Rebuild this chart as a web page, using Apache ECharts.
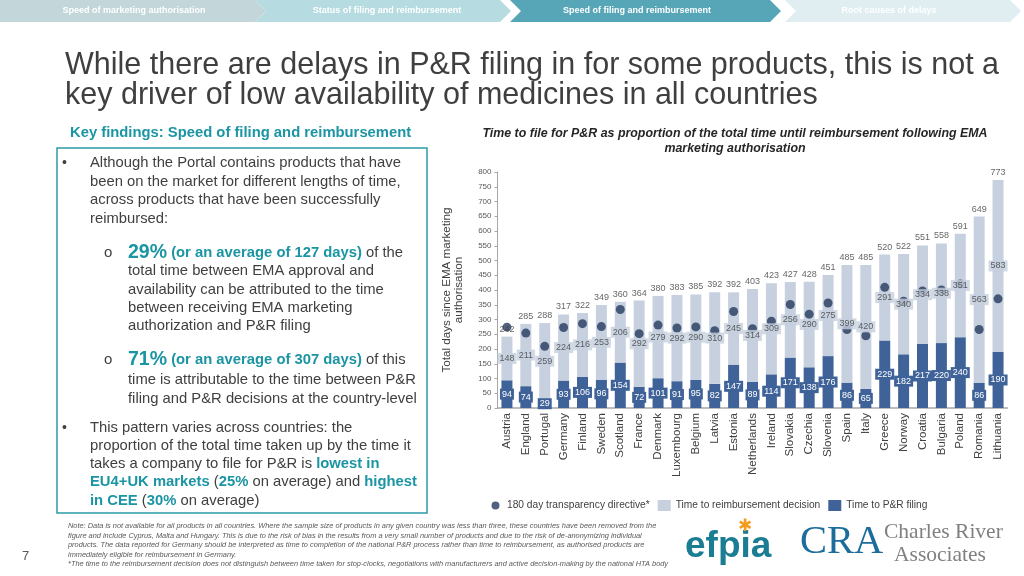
<!DOCTYPE html>
<html>
<head>
<meta charset="utf-8">
<script src="https://cdn.jsdelivr.net/npm/echarts@6/dist/echarts.min.js"></script>
<style>
html,body{margin:0;padding:0;background:#fff;}
#c{width:1024px;height:576px;}
</style>
</head>
<body>
<div id="c"></div>
<script>
var countries = ['Austria','England','Portugal','Germany','Finland','Sweden','Scotland','France','Denmark','Luxembourg','Belgium','Latvia','Estonia','Netherlands','Ireland','Slovakia','Czechia','Slovenia','Spain','Italy','Greece','Norway','Croatia','Bulgaria','Poland','Romania','Lithuania'];
var filing = [94,74,29,93,106,96,154,72,101,91,95,82,147,89,114,171,138,176,86,65,229,182,217,220,240,86,190];
var reimb = [148,211,259,224,216,253,206,292,279,292,290,310,245,314,309,256,290,275,399,420,291,340,334,338,351,563,583];
var totals = [242,285,288,317,322,349,360,364,380,383,385,392,392,403,423,427,428,451,485,485,520,522,551,558,591,649,773];
var directive = [274,254,209,273,286,276,334,252,281,271,275,262,327,269,294,351,318,356,266,245,409,362,397,400,420,266,370];
var yTicks = {min:0, max:800, interval:50};

var DARK = '#3f6399', LIGHT = '#c6d0df', DOT = '#263a5e', TEAL = '#1b95a3', TXT = '#404040';
var FF = "'Liberation Sans', Arial, sans-serif";
var BS = 14.8;

function t(x, y, text, size, opts) {
  opts = opts || {};
  return {type:'text', x:x, y:y, z:10, style:Object.assign({text:text, fontSize:size, fontFamily:FF, fill:TXT, verticalAlign:'middle', align:'left'}, opts)};
}
function chev(x0, x1, color, first) {
  var h = 22, d = 11;
  var pts = first ? [[x0,0],[x1,0],[x1+d,h/2],[x1,h],[x0,h]] : [[x0,0],[x1,0],[x1+d,h/2],[x1,h],[x0,h],[x0+d,h/2]];
  return {type:'polygon', z:5, shape:{points:pts}, style:{fill:color}};
}
var richBold = {
  big:{fontSize:19.5, fontWeight:'bold', fill:TEAL, fontFamily:FF},
  b:{fontSize:BS, fontWeight:'bold', fill:TEAL, fontFamily:FF},
  n:{fontSize:BS, fill:TXT, fontFamily:FF}
};
function rt(x, y, text) {
  return {type:'text', x:x, y:y, z:10, style:{text:text, rich:richBold, fontSize:BS, fontFamily:FF, fill:TXT, verticalAlign:'middle'}};
}
var NOTE = {fill:'#595959', fontStyle:'italic'};

var graphics = [
  chev(785, 1010, '#e0eef1', false),
  chev(510, 770, '#56a6b8', false),
  chev(255, 500, '#b6dbe0', false),
  chev(0, 255, '#c3d6d9', true),
  t(134, 11, 'Speed of marketing authorisation', 9, {fill:'#fff', align:'center', fontWeight:'bold'}),
  t(387, 11, 'Status of filing and reimbursement', 9, {fill:'#fff', align:'center', fontWeight:'bold'}),
  t(637, 11, 'Speed of filing and reimbursement', 9, {fill:'#fff', align:'center', fontWeight:'bold'}),
  t(889, 11, 'Root causes of delays', 9, {fill:'#fff', align:'center', fontWeight:'bold'}),
  t(65, 66, 'While there are delays in P&R filing in for some products, this is not a', 30.5, {fill:'#3f3f3f'}),
  t(65, 96, 'key driver of low availability of medicines in all countries', 30.5, {fill:'#3f3f3f'}),
  t(70, 133, 'Key findings: Speed of filing and reimbursement', 14.8, {fill:TEAL, fontWeight:'bold'}),
  {type:'rect', z:5, shape:{x:57, y:148, width:370, height:365}, style:{fill:'none', stroke:'#2a9aa8', lineWidth:1.5}},
  t(62, 163, '•', 14, {}),
  t(90, 163, 'Although the Portal contains products that have', BS),
  t(90, 181.5, 'been on the market for different lengths of time,', BS),
  t(90, 200, 'across products that have been successfully', BS),
  t(90, 218.5, 'reimbursed:', BS),
  t(104, 253, 'o', 15, {}),
  rt(128, 253, '{big|29%} {b|(or an average of 127 days)}{n| of the}'),
  t(128, 271, 'total time between EMA approval and', BS),
  t(128, 289.5, 'availability can be attributed to the time', BS),
  t(128, 308, 'between receiving EMA marketing', BS),
  t(128, 326, 'authorization and P&R filing', BS),
  t(104, 360, 'o', 15, {}),
  rt(128, 360, '{big|71%} {b|(or an average of 307 days)}{n| of this}'),
  t(128, 380, 'time is attributable to the time between P&R', BS),
  t(128, 398.5, 'filing and P&R decisions at the country-level', BS),
  t(62, 428, '•', 14, {}),
  t(90, 428, 'This pattern varies across countries: the', BS),
  t(90, 446, 'proportion of the total time taken up by the time it', BS),
  rt(90, 464, '{n|takes a company to file for P&R is }{b|lowest in}'),
  rt(90, 482, '{b|EU4+UK markets}{n| (}{b|25%}{n| on average) and }{b|highest}'),
  rt(90, 500.5, '{b|in CEE}{n| (}{b|30%}{n| on average)}'),
  t(735, 134, 'Time to file for P&R as proportion of the total time until reimbursement following EMA', 12.4, {fill:'#262626', fontWeight:'bold', fontStyle:'italic', align:'center'}),
  t(735, 149, 'marketing authorisation', 12.4, {fill:'#262626', fontWeight:'bold', fontStyle:'italic', align:'center'}),
  t(68, 526, 'Note: Data is not available for all products in all countries. Where the sample size of products in any given country was less than three, these countries have been removed from the', 7.4, NOTE),
  t(68, 535.5, 'figure and include Cyprus, Malta and Hungary. This is due to the risk of bias in the results from a very small number of products and due to the risk of de-anonymizing individual', 7.4, NOTE),
  t(68, 545, 'products. The data reported for Germany should be interpreted as time to completion of the national P&R process rather than time to reimbursement, as authorised products are', 7.4, NOTE),
  t(68, 554.5, 'immediately eligible for reimbursement in Germany.', 7.4, NOTE),
  t(68, 564, '*The time to the reimbursement decision does not distinguish between time taken for stop-clocks, negotiations with manufacturers and active decision-making by the national HTA body', 7.4, NOTE),
  t(22, 556, '7', 13, {fill:'#595959'}),
  t(685, 547, 'efpia', 37, {fill:'#1a7d92', fontWeight:'bold'}),
  t(745, 526, '✱', 17, {fill:'#f39c1f', align:'center'}),
  t(800, 542, 'CRA', 40.5, {fill:'#1c6d9c', fontFamily:"'Liberation Serif', serif"}),
  t(884, 532, 'Charles River', 21.5, {fill:'#808080', fontFamily:"'Liberation Serif', serif"}),
  t(894, 555, 'Associates', 21.5, {fill:'#808080', fontFamily:"'Liberation Serif', serif"})
];

var chart = echarts.init(document.getElementById('c'));
chart.setOption({
  animation:false,
  textStyle:{fontFamily:FF},
  grid:{left:497.5, right:16.5, top:172, bottom:168},
  legend:{
    left:484, top:495, itemGap:8, itemWidth:13, itemHeight:11,
    textStyle:{fontSize:10.2, color:TXT, fontFamily:FF},
    data:[{name:'180 day transparency directive*', icon:'path://M0 0M13 11M6.5 1.5A4 4 0 1 1 6.49 1.5Z'},{name:'Time to reimbursement decision', icon:'rect'},{name:'Time to P&R filing', icon:'rect'}]
  },
  xAxis:{
    type:'category', data:countries,
    axisLine:{lineStyle:{color:'#a6a6a6', width:1.5}},
    axisTick:{show:false},
    axisLabel:{rotate:90, interval:0, fontSize:11.5, color:TXT, margin:5}
  },
  yAxis:{
    type:'value', min:yTicks.min, max:yTicks.max, interval:yTicks.interval,
    name:'Total days since EMA marketing\nauthorisation', nameLocation:'middle', nameRotate:90, nameGap:33,
    nameTextStyle:{fontSize:11.6, color:TXT, lineHeight:12},
    axisLine:{show:true, lineStyle:{color:'#a6a6a6'}},
    axisTick:{show:true, length:3, lineStyle:{color:'#a6a6a6'}},
    splitLine:{show:false},
    axisLabel:{fontSize:8, color:'#595959', margin:6}
  },
  series:[
    {name:'Time to P&R filing', type:'bar', stack:'s', barWidth:11, z:2, data:filing,
     itemStyle:{color:DARK},
     label:{show:true, position:'inside', color:'#fff', fontSize:9, backgroundColor:DARK, padding:[1,2]}},
    {name:'Time to reimbursement decision', type:'bar', stack:'s', barWidth:11, z:2, data:reimb,
     itemStyle:{color:LIGHT}},
    {name:'180 day transparency directive*', type:'scatter', z:3, symbolSize:9, data:directive,
     itemStyle:{color:DOT}},
    {name:'reimbLabels', type:'scatter', z:4, symbolSize:0, silent:true,
     data:reimb.map(function(v,i){return {value:[i, filing[i]+v/2], lbl:v};}),
     label:{show:true, position:'inside', formatter:function(p){return p.data.lbl;}, color:TXT, fontSize:9, backgroundColor:LIGHT, padding:[1,2]}},
    {name:'totals', type:'scatter', z:4, symbolSize:0, silent:true, data:totals,
     label:{show:true, position:'top', distance:3, color:TXT, fontSize:9}}
  ],
  graphic:graphics
});
</script>
</body>
</html>
